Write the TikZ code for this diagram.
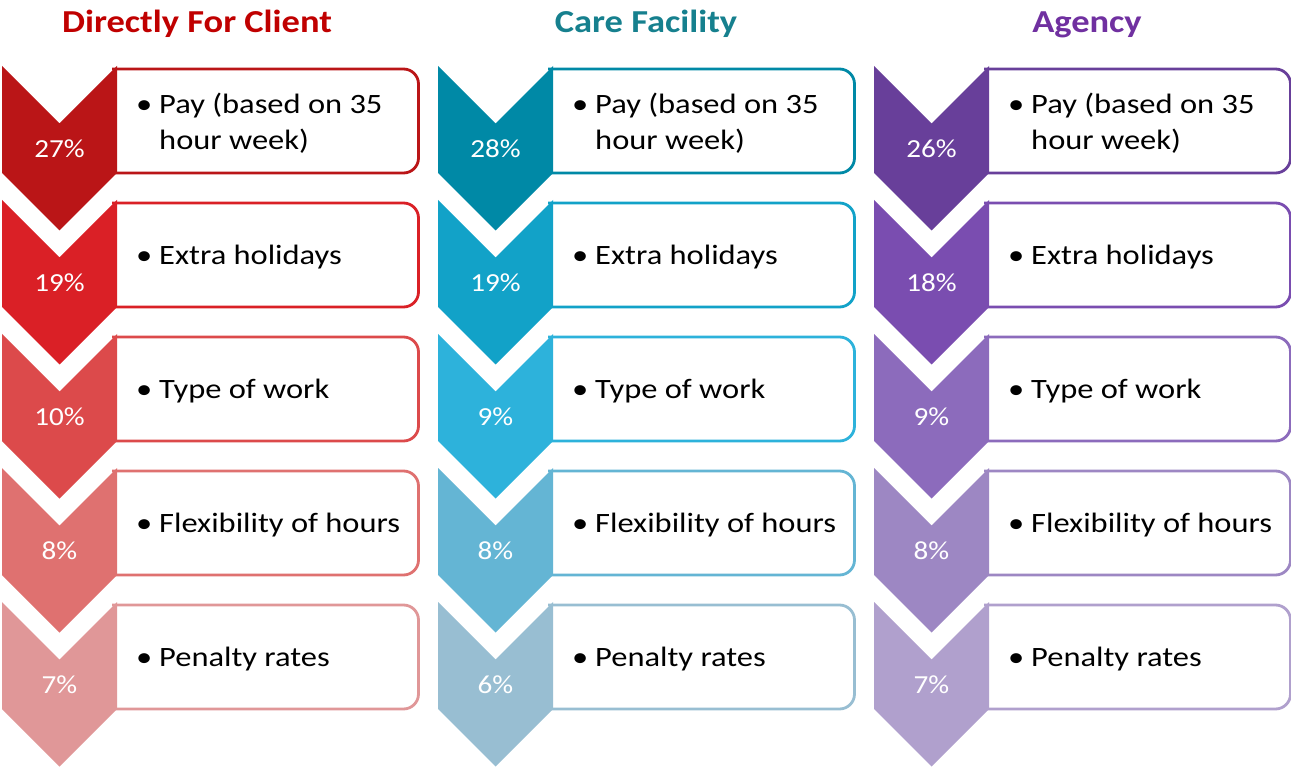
\documentclass[tikz,border=0pt]{standalone}
\usepackage{fontspec}
\setmainfont{Carlito}[FakeStretch=1.16]
\newfontfamily\headfont{Carlito}[FakeStretch=1.14]
\newfontfamily\pctfont{Carlito}[FakeStretch=1.12]
\begin{document}
\begin{tikzpicture}[x=1pt,y=-1pt,
  title/.style={font=\headfont\fontsize{32}{38}\selectfont\bfseries, anchor=base},
  pct/.style={font=\pctfont\fontsize{26}{30}\selectfont, text=white, inner sep=0pt},
  item/.style={font=\fontsize{28}{36}\selectfont, anchor=west, align=left, inner sep=0pt, text=black},
  itembox/.style={line width=2.8pt, fill=white, rounded corners=15pt}]
\useasboundingbox (0,0) rectangle (1291,767);

% palettes, darkest first
\definecolor{rA}{HTML}{BA1517}\definecolor{rB}{HTML}{DA2026}\definecolor{rC}{HTML}{DC4A4B}
\definecolor{rD}{HTML}{DF7170}\definecolor{rE}{HTML}{E09798}
\definecolor{tA}{HTML}{0089A6}\definecolor{tB}{HTML}{12A2C8}\definecolor{tC}{HTML}{2DB2DB}
\definecolor{tD}{HTML}{64B5D4}\definecolor{tE}{HTML}{98BED2}
\definecolor{pA}{HTML}{683F9A}\definecolor{pB}{HTML}{7A4DB0}\definecolor{pC}{HTML}{8C6BBC}
\definecolor{pD}{HTML}{9D87C3}\definecolor{pE}{HTML}{B0A0CD}
\definecolor{redT}{HTML}{C00000}\definecolor{tealT}{HTML}{16808E}\definecolor{purT}{HTML}{7030A0}

% column headings
\node[title, text=redT]  (h1) at (197,33) {Directly For Client};
\node[title, text=tealT] (h2) at (646,33) {Care Facility};
\node[title, text=purT]  (h3) at (1087,33) {Agency};

% one row: chevron with percentage, plus the bulleted box beside it
\newcommand{\chevrow}[6]{% #1 x0, #2 y0, #3 colour, #4 percent, #5 text, #6 name
  \draw[itembox, draw=#3] (#1+110,#2+3) -- (#1+416.5,#2+3) -- (#1+416.5,#2+107) -- (#1+110,#2+107);
  \fill[#3] (#1,#2) -- (#1+57.5,#2+57.5) -- (#1+115,#2) -- (#1+115,#2+107)
     -- (#1+57.5,#2+164.5) -- (#1,#2+107) -- cycle;
  \node[pct] (#6p) at (#1+57.5,#2+83) {#4};
  \node[item] (#6t) at (#1+134,#2+57) {#5};
}
\newcommand{\bul}{\makebox[23pt][l]{\textbullet}}
\newcommand{\ind}{\hspace*{23pt}}

% Directly For Client
\chevrow{2}{66}{rA}{27\%}{\bul Pay (based on 35\\\ind hour week)}{a1}
\chevrow{2}{200}{rB}{19\%}{\bul Extra holidays}{a2}
\chevrow{2}{334}{rC}{10\%}{\bul Type of work}{a3}
\chevrow{2}{468}{rD}{8\%}{\bul Flexibility of hours}{a4}
\chevrow{2}{602}{rE}{7\%}{\bul Penalty rates}{a5}
% Care Facility
\chevrow{438}{66}{tA}{28\%}{\bul Pay (based on 35\\\ind hour week)}{b1}
\chevrow{438}{200}{tB}{19\%}{\bul Extra holidays}{b2}
\chevrow{438}{334}{tC}{9\%}{\bul Type of work}{b3}
\chevrow{438}{468}{tD}{8\%}{\bul Flexibility of hours}{b4}
\chevrow{438}{602}{tE}{6\%}{\bul Penalty rates}{b5}
% Agency
\chevrow{874}{66}{pA}{26\%}{\bul Pay (based on 35\\\ind hour week)}{c1}
\chevrow{874}{200}{pB}{18\%}{\bul Extra holidays}{c2}
\chevrow{874}{334}{pC}{9\%}{\bul Type of work}{c3}
\chevrow{874}{468}{pD}{8\%}{\bul Flexibility of hours}{c4}
\chevrow{874}{602}{pE}{7\%}{\bul Penalty rates}{c5}
\end{tikzpicture}
\end{document}
